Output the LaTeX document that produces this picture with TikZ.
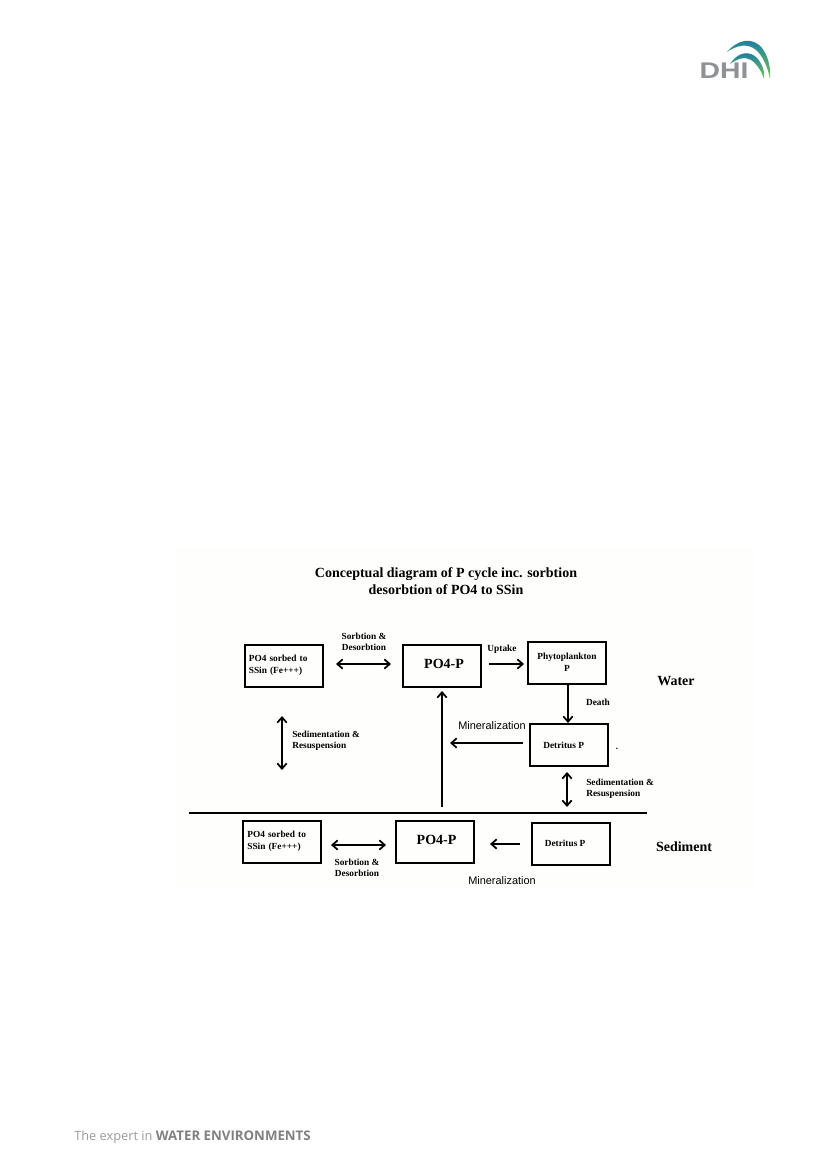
\documentclass[tikz,border=0pt]{standalone}
\usepackage{fontspec}
\setmainfont{Liberation Serif}
\newfontfamily\labelsans{Liberation Sans}
\newfontfamily\footfont{Open Sans}
\usetikzlibrary{calc,arrows.meta}

\definecolor{logogray}{HTML}{8E9295}
\definecolor{logoblue}{HTML}{1578A8}
\definecolor{logoteal}{HTML}{1FA6A8}
\definecolor{logogreen}{HTML}{74C455}
\definecolor{footgray}{HTML}{9A9A9A}
\definecolor{footdark}{HTML}{808080}
\definecolor{panelwhite}{HTML}{FEFEFC}

\tikzstyle{arrow} = [line width=1.3pt,-{Straight Barb[length=4pt,width=7pt]}]
\tikzstyle{biarrow} = [line width=1.3pt,{Straight Barb[length=4pt,width=7pt]}-{Straight Barb[length=4pt,width=7pt]}]
\tikzstyle{pool} = [
        rectangle,
        minimum width=58.5pt,
        minimum height=31.5pt,
        inner sep=2pt,
        draw=black,
        line width=1.5pt,
        font=\bfseries\fontsize{7pt}{9pt}\selectfont
    ]
\tikzstyle{poolbig} = [
        pool,
        font=\bfseries\fontsize{10.5pt}{12pt}\selectfont
    ]
\tikzstyle{flowlabel} = [
        inner sep=0pt,
        align=center,
        font=\bfseries\fontsize{7pt}{8.25pt}\selectfont
    ]
\tikzstyle{sanslabel} = [
        inner sep=0pt,
        font=\labelsans\fontsize{8.2pt}{9pt}\selectfont
    ]
\tikzstyle{zonelabel} = [
        inner sep=0pt,
        font=\bfseries\fontsize{10.5pt}{12pt}\selectfont
    ]
\tikzstyle{swoosh} = [
        top color=logoblue,
        middle color=logoteal,
        bottom color=logogreen
    ]

\begin{document}
\begin{tikzpicture}[x=0.75pt,y=-0.75pt]

        \useasboundingbox (0,0) rectangle (827,1169);
        \fill [panelwhite] (175,547) rectangle (755,890);

        % water column
        \node [pool, text width=52pt, align=left] (sorbwater) at (283.5,665.5) {\raisebox{2.6pt}{PO4 sorbed to}\\\raisebox{2.6pt}{SSin (Fe+++)}};
        \node [poolbig, right of=sorbwater, node distance=118.9pt] (po4water) {\raisebox{2.5pt}{\hspace*{3pt}PO4-P}};
        \node [pool, right of=po4water, node distance=93.75pt, yshift=1.9pt, align=center] (phytowater) {\raisebox{1pt}{Phytoplankton}\\\raisebox{1pt}{P}};
        \node [pool, below of=phytowater, node distance=61.5pt, xshift=1.5pt] (detwater) {\hspace*{-8pt}Detritus P};

        % sediment
        \node [pool, below of=sorbwater, node distance=132.4pt, xshift=-1.1pt, text width=52pt, align=left] (sorbsed) {\raisebox{2.6pt}{PO4 sorbed to}\\\raisebox{2.6pt}{SSin (Fe+++)}};
        \node [poolbig, right of=sorbsed, node distance=114.4pt] (po4sed) {\raisebox{3pt}{\hspace*{3pt}PO4-P}};
        \node [pool, right of=po4sed, node distance=102.4pt, yshift=-1.5pt] (detsed) {\raisebox{1.5pt}{\hspace*{-9pt}Detritus P}};

        % interface
        \coordinate (linestart) at (189,813);
        \coordinate (lineend) at (647,813);
        \draw [line width=2.2pt] (linestart) -- (lineend);

        % free arrow ends
        \coordinate (sedleftup) at (282,716);
        \coordinate (sedleftdown) at (282,770);
        \coordinate (sedrightup) at (567,772);
        \coordinate (sedrightdown) at (567,807);
        \coordinate (risefoot) at (442,807);
        \coordinate (risehead) at (442,691);
        \coordinate (sorbwaterleft) at (336,664);
        \coordinate (sorbwaterright) at (391,664);
        \coordinate (uptakestart) at (489,664);
        \coordinate (uptakeend) at (524,664);
        \coordinate (deathstart) at (568,684);
        \coordinate (deathend) at (568,723);
        \coordinate (minwaterstart) at (523,743);
        \coordinate (minwaterend) at (450,743);
        \coordinate (sorbsedleft) at (331,845);
        \coordinate (sorbsedright) at (386,845);
        \coordinate (minsedstart) at (520,844);
        \coordinate (minsedend) at (490,844);

        \draw [biarrow] (sorbwaterleft) -- (sorbwaterright);
        \draw [arrow] (uptakestart) -- (uptakeend);
        \draw [arrow] (deathstart) -- (deathend);
        \draw [arrow] (minwaterstart) -- (minwaterend);
        \draw [arrow] (risefoot) -- (risehead);
        \draw [biarrow] (sedleftup) -- (sedleftdown);
        \draw [biarrow] (sedrightup) -- (sedrightdown);
        \draw [biarrow] (sorbsedleft) -- (sorbsedright);
        \draw [arrow] (minsedstart) -- (minsedend);

        % labels
        \node [font=\bfseries\fontsize{10.5pt}{13pt}\selectfont, align=center, inner sep=0pt] (title) at (446,581) {Conceptual diagram of P cycle inc. sorbtion\\desorbtion of PO4 to SSin};
        \node [flowlabel] (sorbwaterlabel) at (364,642) {Sorbtion \&\\Desorbtion};
        \node [flowlabel] (uptakelabel) at (502,649) {Uptake};
        \node [flowlabel] (deathlabel) at (598,702) {Death};
        \node [flowlabel, anchor=west, align=left] (sedleftlabel) at (292,741) {Sedimentation \&\\Resuspension};
        \node [flowlabel, anchor=west, align=left] (sedrightlabel) at (586,789) {Sedimentation \&\\Resuspension};
        \node [flowlabel] (sorbsedlabel) at (357,868) {Sorbtion \&\\Desorbtion};
        \node [sanslabel] (minwaterlabel) at (492,726) {Mineralization};
        \node [sanslabel] (minsedlabel) at (502,881) {Mineralization};
        \node [inner sep=0pt, font=\bfseries\fontsize{7pt}{8pt}\selectfont] (dotlabel) at (617,749) {.};
        \node [zonelabel] (waterlabel) at (676,681) {Water};
        \node [zonelabel] (sedimentlabel) at (684,847) {Sediment};

        % logo
        \node [inner sep=0pt, text=logogray, xscale=1.25, font=\labelsans\bfseries\fontsize{17pt}{17pt}\selectfont] (dhi) at (724,71) {DHI};
        \shade [swoosh] (727,52) .. controls (737,40) and (752,36) .. (762,48) .. controls (768,56) and (771,67) .. (770,79) .. controls (768,68) and (763,56) .. (756,50) .. controls (748,43) and (737,45) .. (727,52) -- cycle;
        \shade [swoosh] (730,64) .. controls (737,53) and (748,50) .. (756,57) .. controls (762,63) and (765,71) .. (764,79) .. controls (762,72) and (757,64) .. (751,60) .. controls (745,56) and (737,59) .. (730,64) -- cycle;

        % footer
        \node [inner sep=0pt, anchor=west, text=footgray, font=\footfont\fontsize{9.6pt}{11pt}\selectfont] (footer) at (74,1137) {The expert in \textcolor{footdark}{\fontsize{9.95pt}{11pt}\selectfont\textbf{WATER ENVIRONMENTS}}};

\end{tikzpicture}
\end{document}
